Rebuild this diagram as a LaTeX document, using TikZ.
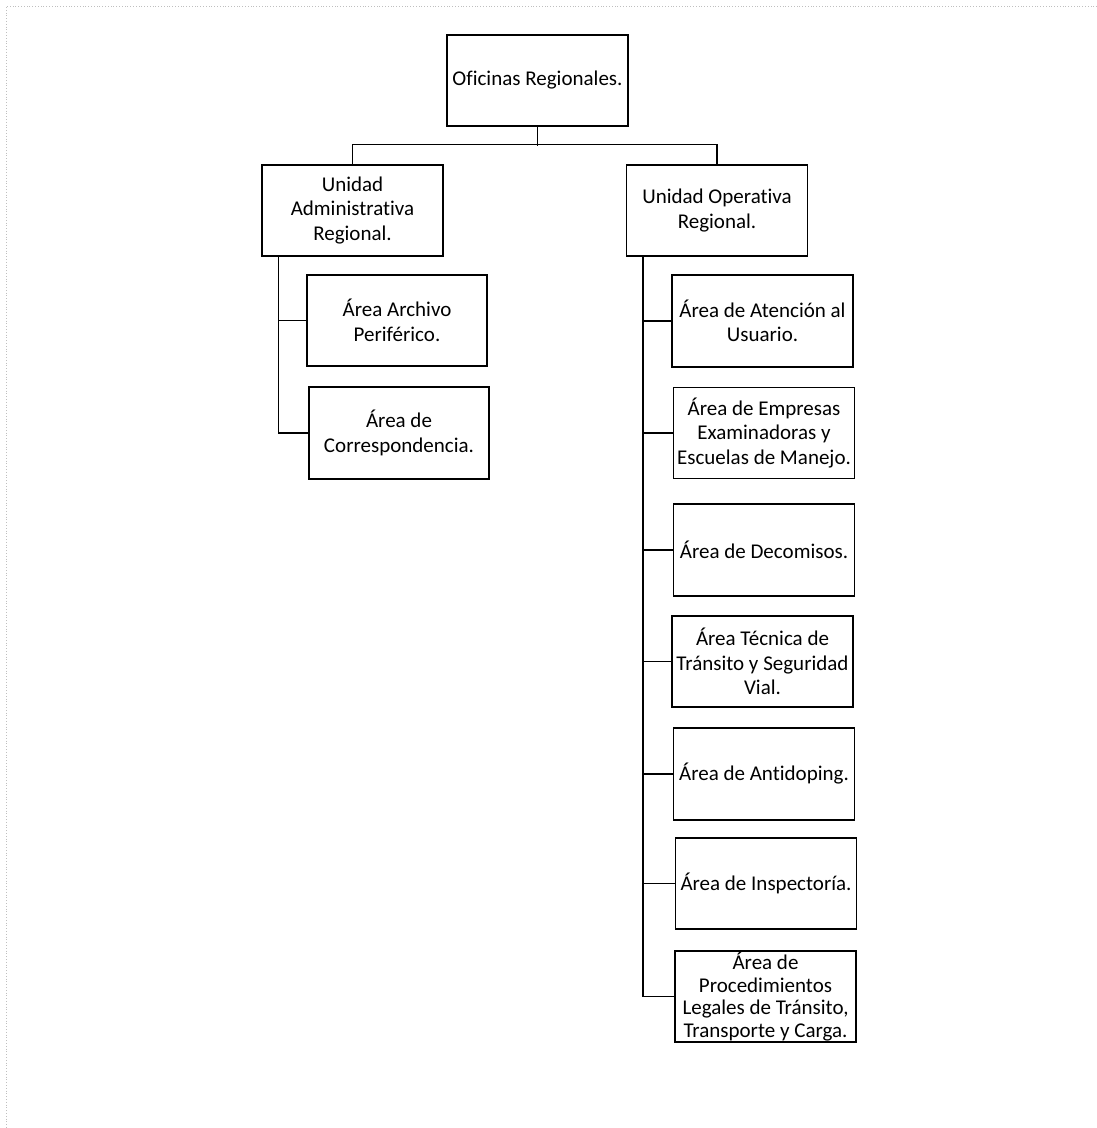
\documentclass[tikz,border=0pt]{standalone}
\usepackage{fontspec}
\setmainfont[Ligatures=NoCommon]{Carlito}
\begin{document}
\begin{tikzpicture}[
    x=1pt,
    y=-1pt,
    box/.style={
        draw,
        line width=1.2pt,
        minimum width=181pt,
        minimum height=91pt,
        inner sep=2pt,
        align=center,
        font=\fontsize{21}{24.5}\selectfont
    },
    link/.style={
        line width=1.2pt
    }
]
    \useasboundingbox (0,0) rectangle (1097,1128);
    \draw[black!25, dotted, line width=0.8pt] (1097,6) -- (6,6) -- (6,1128);

    \node[box] (oficinas) at (537.5,80.5) {Oficinas Regionales.};

    \node[box] (admin) at (352.5,210.5)
        {Unidad\\Administrativa\\Regional.};
    \node[box] (operativa) at (717,210.5)
        {Unidad Operativa\\Regional.};

    \node[box, minimum width=180pt] (archivo) at (397,320.5)
        {Área Archivo\\Periférico.};
    \node[box, minimum width=180pt, minimum height=92pt] (corresp) at (399,433)
        {Área de\\Correspondencia.};

    \node[box, minimum height=92pt] (atencion) at (762.5,321)
        {Área de Atención al\\Usuario.};
    \node[box] (empresas) at (764,433)
        {Área de Empresas\\Examinadoras y\\Escuelas de Manejo.};
    \node[box, minimum height=92pt] (decomisos) at (764,550)
        {Área de Decomisos.};
    \node[box] (tecnica) at (762.5,661.5)
        {Área Técnica de\\Tránsito y Seguridad\\Vial.};
    \node[box, minimum height=92pt] (antidoping) at (764,774)
        {Área de Antidoping.};
    \node[box] (inspectoria) at (766,883.5)
        {Área de Inspectoría.};
    \node[box, inner sep=0pt, font=\fontsize{21}{22.7}\selectfont] (procedimientos) at (765.5,996.5)
        {Área de\\Procedimientos\\Legales de Tránsito,\\Transporte y Carga.};

    % top level
    \draw[link] (oficinas.south) -- ++(0,19);
    \draw[link] (admin.north) -- ++(0,-20) -| (operativa.north);

    % administrativa
    \draw[link] ([xshift=17pt]admin.south west) |- (archivo.west);
    \draw[link] ([xshift=17pt]admin.south west) |- (corresp.west);

    % operativa
    \draw[link] ([xshift=17pt]operativa.south west) |- (atencion.west);
    \draw[link] ([xshift=17pt]operativa.south west) |- (empresas.west);
    \draw[link] ([xshift=17pt]operativa.south west) |- (decomisos.west);
    \draw[link] ([xshift=17pt]operativa.south west) |- (tecnica.west);
    \draw[link] ([xshift=17pt]operativa.south west) |- (antidoping.west);
    \draw[link] ([xshift=17pt]operativa.south west) |- (inspectoria.west);
    \draw[link] ([xshift=17pt]operativa.south west) |- (procedimientos.west);

\end{tikzpicture}
\end{document}
